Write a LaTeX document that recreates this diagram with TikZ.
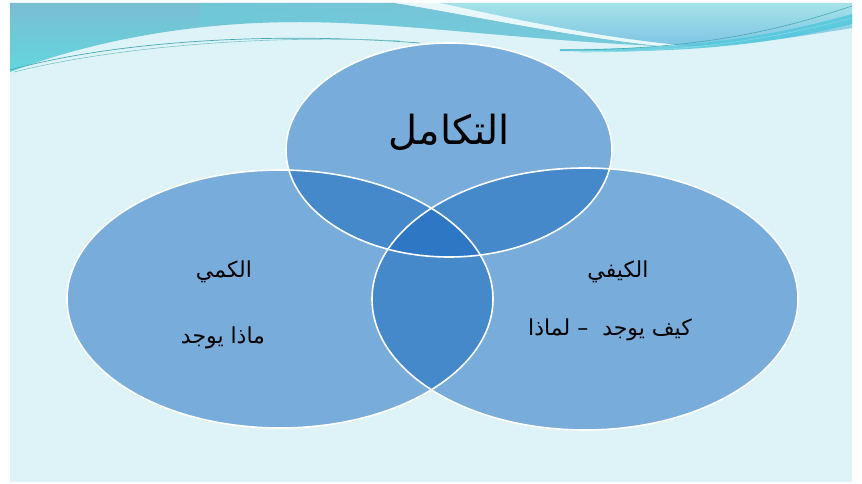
\documentclass[tikz,border=0pt]{standalone}
\usepackage{fontspec}
\TeXXeTstate=1
\newfontfamily\arabicfont[Script=Arabic]{DejaVu Sans}
\begin{document}
\begin{tikzpicture}[x=1pt,y=-1pt,
  setfill/.style={fill={rgb,255:red,21;green,103;blue,190},fill opacity=0.5},
  setrim/.style={draw=white,line width=1.6pt},
  arlabel/.style={font=\arabicfont\fontsize{22}{26}\selectfont,text=black,inner sep=0pt},
  toplabel/.style={font=\arabicfont\fontsize{40}{44}\selectfont,text=black,inner sep=0pt},
  strand/.style={line width=#1,line cap=round}]
\definecolor{slidebg}{RGB}{221,243,248}
\definecolor{bandtop}{RGB}{122,190,210}
\definecolor{bandlow}{RGB}{98,214,222}
\definecolor{bandright}{RGB}{124,200,222}
\definecolor{skytop}{RGB}{165,227,232}
\definecolor{skylow}{RGB}{126,196,228}
\definecolor{streak}{RGB}{232,248,250}
\definecolor{tealline}{RGB}{70,170,180}
\definecolor{cyanline}{RGB}{80,200,220}

% page and slide area
\fill[white] (0,0) rectangle (862,484);
\useasboundingbox (0,0) rectangle (862,484);
\fill[slidebg] (10,3) rectangle (852,482);

% wave banner along the top edge
\shade[top color=bandtop,bottom color=bandlow]
  (10,3) -- (395,3) .. controls (470,15) and (560,35) .. (660,46)
  .. controls (520,40) and (400,22) .. (300,22)
  .. controls (180,22) and (80,45) .. (10,72) -- cycle;
\shade[left color=bandlow!60!bandtop,right color=bandright,opacity=0.6]
  (200,3) -- (395,3) .. controls (470,15) and (560,35) .. (660,46)
  .. controls (520,40) and (400,22) .. (300,22) .. controls (260,22) and (230,23) .. (200,25) -- cycle;
\fill[streak]
  (395,3) -- (440,3) .. controls (520,20) and (600,38) .. (690,46)
  -- (660,46) .. controls (560,35) and (470,15) .. (395,3) -- cycle;
\shade[top color=skytop,bottom color=skylow]
  (440,3) -- (852,3) -- (852,28) .. controls (790,38) and (740,46) .. (690,46)
  .. controls (600,38) and (520,20) .. (440,3) -- cycle;
\fill[cyanline,opacity=0.8]
  (560,49) .. controls (700,50) and (780,34) .. (852,14) -- (852,24)
  .. controls (780,42) and (700,54) .. (560,51) -- cycle;
\draw[tealline,strand=0.7pt] (10,70) .. controls (100,45) and (250,30) .. (420,43);
\draw[tealline!70,strand=0.6pt] (14,72) .. controls (110,48) and (260,34) .. (400,41);
\draw[tealline,strand=0.6pt] (560,50) .. controls (700,50) and (780,30) .. (852,6);
\draw[cyanline!70,strand=0.6pt] (580,52) .. controls (710,52) and (790,34) .. (852,18);

% the three sets
\coordinate (ctop) at (449,150);
\coordinate (cleft) at (280,299);
\coordinate (cright) at (585,299);
\fill[setfill] (ctop) ellipse [x radius=163,y radius=107];
\fill[setfill] (cleft) ellipse [x radius=213,y radius=129];
\fill[setfill] (cright) ellipse [x radius=213,y radius=131];
\draw[setrim] (ctop) ellipse [x radius=163,y radius=107];
\draw[setrim] (cleft) ellipse [x radius=213,y radius=129];
\draw[setrim] (cright) ellipse [x radius=213,y radius=131];

% labels
\node[toplabel] (ttop) at (449,132) {\beginR التكامل\endR};
\node[arlabel] (tleft) at (224,272) {\beginR الكمي\endR};
\node[arlabel] (tleftq) at (223,338) {\beginR ماذا يوجد\endR};
\node[arlabel] (tright) at (618,272) {\beginR الكيفي\endR};
\node[arlabel] (trightq) at (610,330) {\beginR كيف يوجد \ – لماذا\endR};
\end{tikzpicture}
\end{document}
